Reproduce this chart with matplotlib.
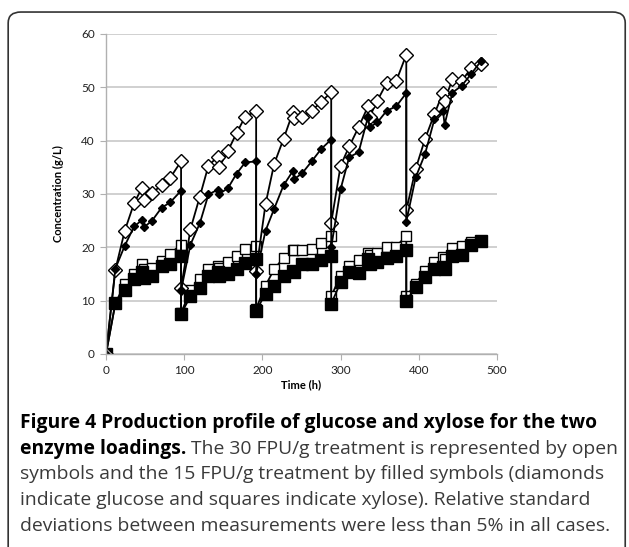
import matplotlib.pyplot as plt
from matplotlib.patches import FancyBboxPatch

# sampling times (h); each refill shows up as two points at the same time
hours = [0, 12, 24, 36, 46, 49, 59, 71, 82, 96,
         96, 108, 120, 131, 143, 145, 156, 167, 178, 192,
         192, 204, 215, 227, 239, 241, 251, 263, 275, 288,
         288, 300, 311, 323, 335, 337, 347, 359, 371, 384,
         384, 396, 408, 420, 431, 433, 443, 455, 467, 480]

# 30 FPU/g glucose (open diamonds)
glucose_30 = [0, 15.8, 23.1, 28.3, 31.1, 28.8, 30.1, 31.7, 33.0, 36.1,
              12.3, 23.4, 29.5, 35.3, 37.0, 35.1, 38.1, 41.4, 44.5, 45.5,
              15.5, 28.1, 35.6, 40.3, 45.3, 44.3, 44.4, 45.6, 47.2, 49.1,
              24.6, 35.3, 38.9, 42.5, 46.4, 44.4, 47.5, 50.8, 51.1, 56.1,
              26.9, 34.7, 40.3, 45.0, 49.0, 47.5, 51.5, 51.2, 53.6, 54.3]

# 15 FPU/g glucose (filled diamonds)
glucose_15 = [0, 16.0, 20.3, 23.9, 25.1, 23.8, 25.0, 27.4, 28.4, 30.6,
              11.9, 20.5, 24.5, 29.9, 30.8, 30.0, 31.1, 33.8, 35.9, 36.1,
              15.0, 23.1, 27.2, 31.6, 34.3, 32.8, 33.9, 36.1, 38.4, 40.2,
              20.0, 30.9, 36.9, 37.8, 44.4, 42.5, 43.4, 45.6, 46.4, 48.9,
              24.8, 33.1, 37.5, 44.0, 45.5, 43.0, 49.0, 50.3, 52.5, 55.0]

# 30 FPU/g xylose (open squares)
xylose_30 = [0, 9.5, 13.1, 15.0, 16.9, 16.0, 16.1, 17.5, 18.8, 20.5,
             7.7, 11.9, 14.1, 15.9, 16.4, 16.2, 17.2, 18.4, 19.7, 20.3,
             8.5, 12.8, 15.9, 18.0, 19.4, 19.4, 19.4, 19.7, 20.8, 22.2,
             10.8, 14.7, 16.4, 17.6, 18.9, 18.5, 18.9, 20.0, 20.1, 22.2,
             10.8, 13.2, 15.6, 17.3, 18.2, 17.8, 19.8, 20.3, 20.9, 21.2]

# 15 FPU/g xylose (filled squares)
xylose_15 = [0, 9.5, 12.0, 14.1, 15.3, 14.3, 14.7, 16.4, 16.9, 18.3,
             7.5, 10.8, 12.4, 14.7, 15.3, 14.7, 15.0, 15.9, 17.0, 17.8,
             8.1, 11.3, 12.8, 14.7, 15.6, 15.4, 16.8, 16.8, 17.6, 18.4,
             9.4, 13.4, 15.3, 15.1, 17.8, 16.8, 17.2, 18.0, 18.3, 19.5,
             10.0, 12.5, 14.4, 16.0, 16.3, 16.0, 18.3, 18.5, 20.4, 21.2]

caption_lines = [
    [("Figure 4 Production profile of glucose and xylose for the two", "bold")],
    [("enzyme loadings.", "bold"), (" The 30 FPU/g treatment is represented by open", "normal")],
    [("symbols and the 15 FPU/g treatment by filled symbols (diamonds", "normal")],
    [("indicate glucose and squares indicate xylose). Relative standard", "normal")],
    [("deviations between measurements were less than 5% in all cases.", "normal")],
]

fig = plt.figure(figsize=(6.29, 5.47), dpi=100)

# rounded frame around the whole figure, open at the bottom
frame = FancyBboxPatch((0.013, -0.05), 0.981, 1.028, boxstyle="round,pad=0,rounding_size=0.02",
                       transform=fig.transFigure, fill=False, edgecolor="#333333", linewidth=1.2)
fig.patches.append(frame)

ax = fig.add_axes([106 / 629, 0.353, 391 / 629, 0.585])

ax.plot(hours, xylose_30, color="black", lw=1.3, marker="s", ms=7.5,
        mfc="white", mec="black", mew=1.0)
ax.plot(hours, xylose_15, color="black", lw=1.3, marker="s", ms=8.5,
        mfc="black", mec="black")
ax.plot(hours, glucose_30, color="black", lw=1.3, marker="D", ms=7,
        mfc="white", mec="black", mew=1.0)
ax.plot(hours, glucose_15, color="black", lw=1.3, marker="D", ms=4.5,
        mfc="black", mec="black")

ax.set_xlim(0, 500)
ax.set_ylim(0, 60)
ax.set_xticks(range(0, 501, 100))
ax.set_yticks(range(0, 61, 10))
ax.grid(axis="y", color="#c8c8c8", lw=1.2)
ax.set_axisbelow(True)
for side in ["top", "right"]:
    ax.spines[side].set_visible(False)
for side in ["left", "bottom"]:
    ax.spines[side].set_color("#b0b0b0")
    ax.spines[side].set_linewidth(1.0)
ax.tick_params(colors="#b0b0b0", labelcolor="#222222", labelsize=8.5, length=4, pad=4)
for lab in ax.get_xticklabels() + ax.get_yticklabels():
    lab.set_family("Lato")

ax.set_xlabel("Time (h)", fontsize=8, fontweight="bold", family="Lato", labelpad=2)
ax.set_ylabel("Concentration (g/L)", fontsize=8, fontweight="bold", family="Lato", labelpad=12)

# caption with a bold lead-in
renderer = fig.canvas.get_renderer()
y0 = 1 - 423 / 547
step = 25.7 / 547
for i, parts in enumerate(caption_lines):
    x = 20 / 629
    for text, weight in parts:
        color = "black" if weight == "bold" else "#3a3a3a"
        t = fig.text(x, y0 - i * step, text, fontsize=13.9, fontweight=weight,
                     family="Open Sans", color=color, va="center", ha="left")
        bb = t.get_window_extent(renderer)
        x = bb.x1 / fig.bbox.width

fig.savefig("out.png", dpi=100)
